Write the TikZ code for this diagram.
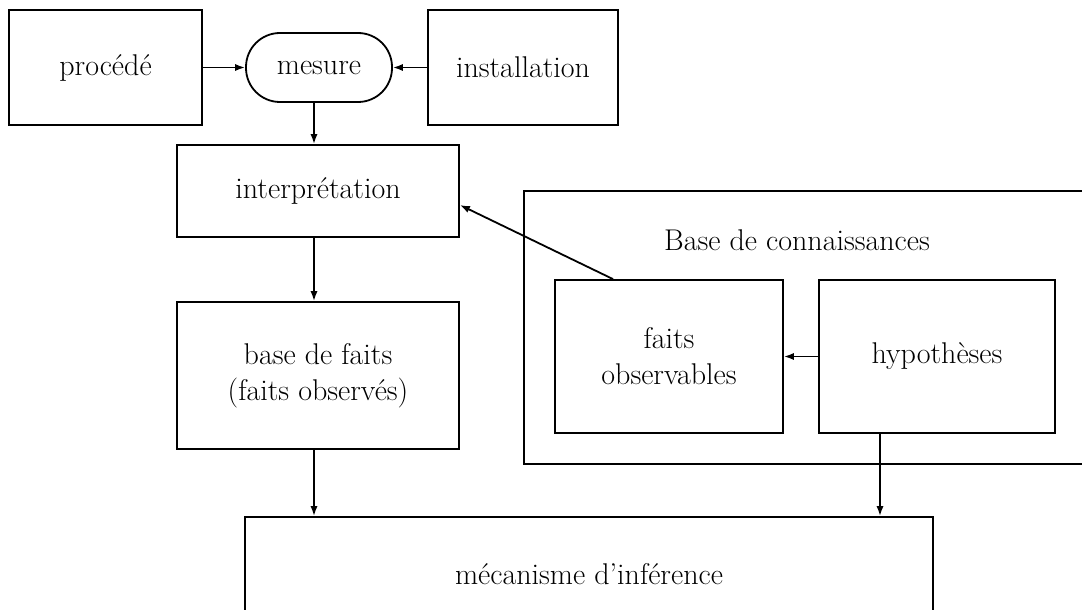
\documentclass[tikz,border=0pt]{standalone}
\usetikzlibrary{arrows.meta}
\begin{document}
\begin{tikzpicture}[x=0.5pt,y=-0.5pt,
  every node/.style={font=\fontsize{15pt}{18pt}\selectfont},
  box/.style={draw,line width=0.9pt,rectangle,inner sep=0pt,align=center},
  conn/.style={line width=0.9pt,-{Latex[length=5pt,width=3.6pt]}}]
\useasboundingbox (0,0) rectangle (1082,610);
\clip (0,0) rectangle (1082,610);
% nodes
\node[box,minimum width=96.5pt,minimum height=57.5pt] (procede) at (105.5,67.5) {procédé};
\node[box,minimum width=73pt,minimum height=34.5pt,rounded corners=17pt] (mesure) at (319,67.5) {mesure};
\node[box,minimum width=95pt,minimum height=57.5pt] (install) at (523,67.5) {installation};
\node[box,minimum width=141pt,minimum height=46pt] (interp) at (318,191) {interprétation};
\node[box,minimum width=141pt,minimum height=73.5pt] (faits) at (318,375.5) {base de faits\\(faits observés)};
\node[box,minimum width=288pt,minimum height=136.5pt] (kb) at (812,327.5) {};
\node[inner sep=0pt] (kbtitle) at (797,240) {Base de connaissances};
\node[box,minimum width=114pt,minimum height=76.5pt] (fobs) at (669,356.5) {faits\\observables};
\node[box,minimum width=118pt,minimum height=76.5pt] (hyp) at (937,356.5) {hypothèses};
\node[box,minimum width=344pt,minimum height=57pt] (meca) at (589,574) {mécanisme d'inférence};
\coordinate (vx) at (314,0);
% connectors
\draw[conn] (procede.east) -- (mesure.west);
\draw[conn] (install.west) -- (mesure.east);
\draw[conn] (vx |- mesure.south) -- (vx |- interp.north);
\draw[conn] (vx |- interp.south) -- (vx |- faits.north);
\draw[conn] (vx |- faits.south) -- (vx |- meca.north);
\draw[conn] ([xshift=-28.5pt]hyp.south) -- ([xshift=-28.5pt]hyp.south |- meca.north);
\draw[conn] (hyp.west) -- (fobs.east);
\draw[conn] ([xshift=-28pt]fobs.north) -- ([yshift=-7pt]interp.east);
\end{tikzpicture}
\end{document}
